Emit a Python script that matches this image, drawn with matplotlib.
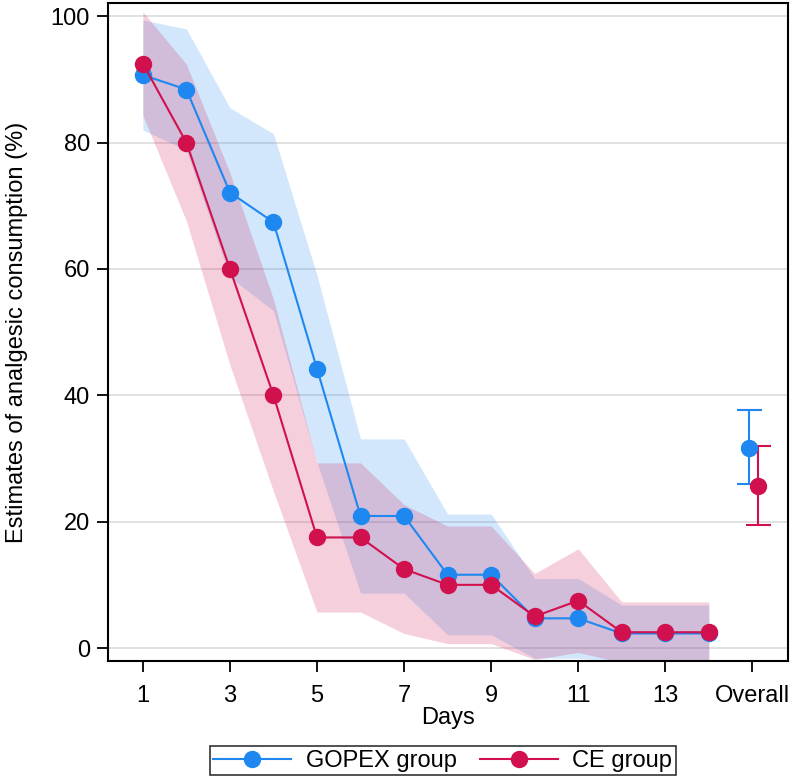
import matplotlib
matplotlib.use("Agg")
import matplotlib.pyplot as plt
from matplotlib.lines import Line2D

plt.rcParams['font.family'] = ['Liberation Sans', 'DejaVu Sans']

days = [1, 2, 3, 4, 5, 6, 7, 8, 9, 10, 11, 12, 13, 14]
tick_pos = [1, 3, 5, 7, 9, 11, 13, 15]
tick_labels = ['1', '3', '5', '7', '9', '11', '13', 'Overall']

gopex = [90.7, 88.4, 72.1, 67.4, 44.2, 20.9, 20.9, 11.6, 11.6, 4.7, 4.7, 2.3, 2.3, 2.3]
gopex_lo = [82.0, 78.8, 58.7, 53.4, 29.4, 8.7, 8.7, 2.1, 2.1, -1.6, -1.6, -2.2, -2.2, -2.2]
gopex_hi = [99.4, 98.0, 85.5, 81.4, 59.0, 33.1, 33.1, 21.2, 21.2, 11.0, 11.0, 6.8, 6.8, 6.8]

ce = [92.5, 80.0, 60.0, 40.0, 17.5, 17.5, 12.5, 10.0, 10.0, 5.0, 7.5, 2.5, 2.5, 2.5]
ce_lo = [84.3, 67.6, 44.8, 24.8, 5.7, 5.7, 2.3, 0.7, 0.7, -1.8, -0.7, -2.3, -2.3, -2.3]
ce_hi = [100.7, 92.4, 75.2, 55.2, 29.3, 29.3, 22.7, 19.3, 19.3, 11.8, 15.7, 7.3, 7.3, 7.3]

overall_x = [14.93, 15.13]
overall_est = [31.7, 25.7]
overall_lo = [25.9, 19.4]
overall_hi = [37.6, 32.0]

blue = '#1E88F0'
red = '#D1104E'
FS = 17

fig = plt.figure(figsize=(7.92, 7.80), dpi=100)
ax = fig.add_axes([0.1364, 0.1526, 0.8586, 0.8436])

for y in [0, 20, 40, 60, 80, 100]:
    ax.axhline(y, color='#dcdcdc', lw=1.2, zorder=0)

ax.fill_between(days, gopex_lo, gopex_hi, color=blue, alpha=0.2, lw=0, zorder=1)
ax.fill_between(days, ce_lo, ce_hi, color=red, alpha=0.2, lw=0, zorder=1)

ax.plot(days, gopex, '-o', color=blue, lw=1.5, ms=11.5, zorder=3)
ax.plot(days, ce, '-o', color=red, lw=1.5, ms=11.5, zorder=4)

cols = [blue, red]
for i in range(2):
    ax.errorbar([overall_x[i]], [overall_est[i]],
                yerr=[[overall_est[i] - overall_lo[i]], [overall_hi[i] - overall_est[i]]],
                fmt='o', color=cols[i], ms=11.5, capsize=9, elinewidth=1.5, capthick=1.5, zorder=5)

ax.set_xlim(0.2, 15.82)
ax.set_ylim(-2.05, 102.1)
ax.set_xticks(tick_pos)
ax.set_xticklabels(tick_labels)
ax.set_yticks([0, 20, 40, 60, 80, 100])
ax.tick_params(axis='both', direction='out', length=8, width=1.3, labelsize=FS, colors='black')
ax.tick_params(axis='x', pad=9)
ax.tick_params(axis='y', pad=5)
for s in ax.spines.values():
    s.set_linewidth(1.5)
    s.set_color('black')

ax.set_xlabel('Days', fontsize=FS, labelpad=0)
ax.set_ylabel('Estimates of analgesic consumption (%)', fontsize=FS, labelpad=16)

handles = [Line2D([0], [0], color=blue, lw=1.5, marker='o', ms=11.5),
           Line2D([0], [0], color=red, lw=1.5, marker='o', ms=11.5)]
leg = fig.legend(handles, ['GOPEX group', 'CE group'], loc='center',
                 bbox_to_anchor=(0.559, 0.0245), ncol=2, fontsize=FS, frameon=True,
                 fancybox=False, edgecolor='black', handlelength=3.3, columnspacing=1.0,
                 borderpad=0.15, handletextpad=0.6)
leg.get_frame().set_linewidth(1.2)

fig.savefig('out.png', dpi=100)
